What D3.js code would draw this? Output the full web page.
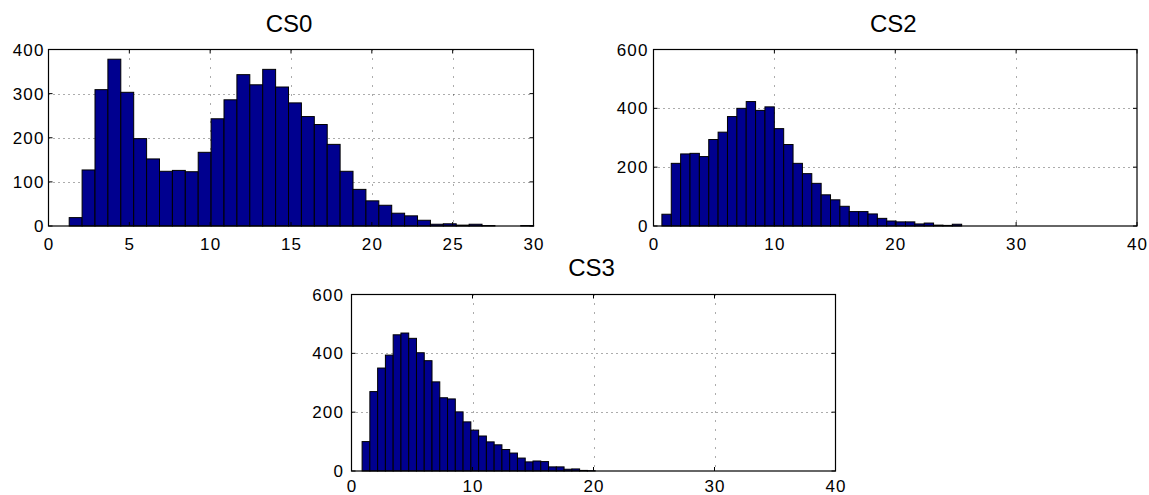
<!DOCTYPE html>
<html>
<head>
<meta charset="utf-8">
<script src="https://cdn.jsdelivr.net/npm/d3@7"></script>
<style>
  html, body { margin: 0; padding: 0; background: #fff; }
  svg { display: block; }
</style>
</head>
<body>
<svg id="chart" width="1149" height="495"></svg>
<script>
// ---------- DATA ----------
const titles = ["CS0", "CS2", "CS3"];

const cs0Counts = [19,127,309,378,303,198,152,124,126,123,167,243,286,343,320,355,315,279,248,230,185,124,83,57,47,29,23,13,4,5,2,4,1,0,0,1];
const cs0BinStart = 1.28;
const cs0BinWidth = 0.798;
const cs0XTicks = [0,5,10,15,20,25,30];
const cs0YTicks = [0,100,200,300,400];

const cs2Counts = [40,213,245,247,236,294,319,372,400,423,393,405,331,277,213,178,145,106,89,67,49,49,41,26,17,14,14,7,10,3,2,6];
const cs2BinStart = 0.695;
const cs2BinWidth = 0.775;
const cs2XTicks = [0,10,20,30,40];
const cs2YTicks = [0,200,400,600];

const cs3Counts = [100,270,350,394,463,469,451,402,375,303,249,245,201,167,139,119,99,89,73,61,44,31,34,32,14,14,6,7,2,1];
const cs3BinStart = 0.876;
const cs3BinWidth = 0.642;
const cs3XTicks = [0,10,20,30,40];
const cs3YTicks = [0,200,400,600];

// ---------- LAYOUT ----------
const panels = [
  { title: titles[0], counts: cs0Counts, start: cs0BinStart, width: cs0BinWidth, xTicks: cs0XTicks, yTicks: cs0YTicks,
    x0: 48.5, x1: 533.5, y0: 49.5, y1: 226, labelGap: 5, xLabelBase: 250, titleBase: 31.7 },
  { title: titles[1], counts: cs2Counts, start: cs2BinStart, width: cs2BinWidth, xTicks: cs2XTicks, yTicks: cs2YTicks,
    x0: 653.5, x1: 1137, y0: 49.5, y1: 226, labelGap: 6, xLabelBase: 250, titleBase: 31.7 },
  { title: titles[2], counts: cs3Counts, start: cs3BinStart, width: cs3BinWidth, xTicks: cs3XTicks, yTicks: cs3YTicks,
    x0: 351.5, x1: 835.5, y0: 294.5, y1: 471, labelGap: 8.5, xLabelBase: 491.7, titleBase: 275.7 }
];

const svg = d3.select("#chart");
const font = "'Liberation Sans', Arial, Helvetica, sans-serif";

panels.forEach(p => {
  const xMax = p.xTicks[p.xTicks.length - 1];
  const yMax = p.yTicks[p.yTicks.length - 1];
  const x = d3.scaleLinear().domain([0, xMax]).range([p.x0, p.x1]);
  const y = d3.scaleLinear().domain([0, yMax]).range([p.y1, p.y0]);
  const g = svg.append("g");

  // grid (behind bars)
  g.selectAll(".gx").data(p.xTicks.slice(1, -1)).join("line")
    .attr("x1", d => Math.round(x(d)) + 0.5).attr("x2", d => Math.round(x(d)) + 0.5)
    .attr("y1", p.y0).attr("y2", p.y1)
    .attr("stroke", "#000").attr("stroke-opacity", 0.65)
    .attr("stroke-width", 1).attr("stroke-dasharray", "1 8");
  g.selectAll(".gy").data(p.yTicks.slice(1, -1)).join("line")
    .attr("y1", d => Math.round(y(d)) + 0.5).attr("y2", d => Math.round(y(d)) + 0.5)
    .attr("x1", p.x0).attr("x2", p.x1)
    .attr("stroke", "#000").attr("stroke-opacity", 0.65)
    .attr("stroke-width", 1).attr("stroke-dasharray", "1 4");

  // bars
  g.selectAll(".bar").data(p.counts).join("rect")
    .attr("x", (d, i) => x(p.start + i * p.width))
    .attr("width", (d, i) => x(p.start + (i + 1) * p.width) - x(p.start + i * p.width))
    .attr("y", d => y(d))
    .attr("height", d => y(0) - y(d))
    .attr("fill", "#00008f")
    .attr("stroke", "#000")
    .attr("stroke-width", 1);

  // frame
  g.append("rect")
    .attr("x", p.x0).attr("y", p.y0)
    .attr("width", p.x1 - p.x0).attr("height", p.y1 - p.y0)
    .attr("fill", "none").attr("stroke", "#000").attr("stroke-width", 1.2);

  // tick marks inward
  const tl = 4;
  p.xTicks.forEach(t => {
    const xx = x(t);
    g.append("line").attr("x1", xx).attr("x2", xx).attr("y1", p.y1).attr("y2", p.y1 - tl).attr("stroke", "#000");
    g.append("line").attr("x1", xx).attr("x2", xx).attr("y1", p.y0).attr("y2", p.y0 + tl).attr("stroke", "#000");
  });
  p.yTicks.forEach(t => {
    const yy = y(t);
    g.append("line").attr("x1", p.x0).attr("x2", p.x0 + tl).attr("y1", yy).attr("y2", yy).attr("stroke", "#000");
    g.append("line").attr("x1", p.x1).attr("x2", p.x1 - tl).attr("y1", yy).attr("y2", yy).attr("stroke", "#000");
  });

  // tick labels
  g.selectAll(".xl").data(p.xTicks).join("text")
    .attr("x", d => x(d)).attr("y", p.xLabelBase)
    .attr("text-anchor", "middle")
    .attr("font-family", font).attr("font-size", 17)
    .attr("letter-spacing", 1.2).attr("dx", 0.6)
    .attr("fill", "#000")
    .text(d => d);
  g.selectAll(".yl").data(p.yTicks).join("text")
    .attr("x", p.x0 - p.labelGap + 1.2).attr("y", d => y(d) + 6)
    .attr("text-anchor", "end")
    .attr("font-family", font).attr("font-size", 17)
    .attr("letter-spacing", 1.2)
    .attr("fill", "#000")
    .text(d => d);

  // title
  g.append("text")
    .attr("x", (p.x0 + p.x1) / 2 - 2).attr("y", p.titleBase)
    .attr("text-anchor", "middle")
    .attr("font-family", font).attr("font-size", 24)
    .attr("fill", "#000")
    .text(p.title);
});
</script>
</body>
</html>
